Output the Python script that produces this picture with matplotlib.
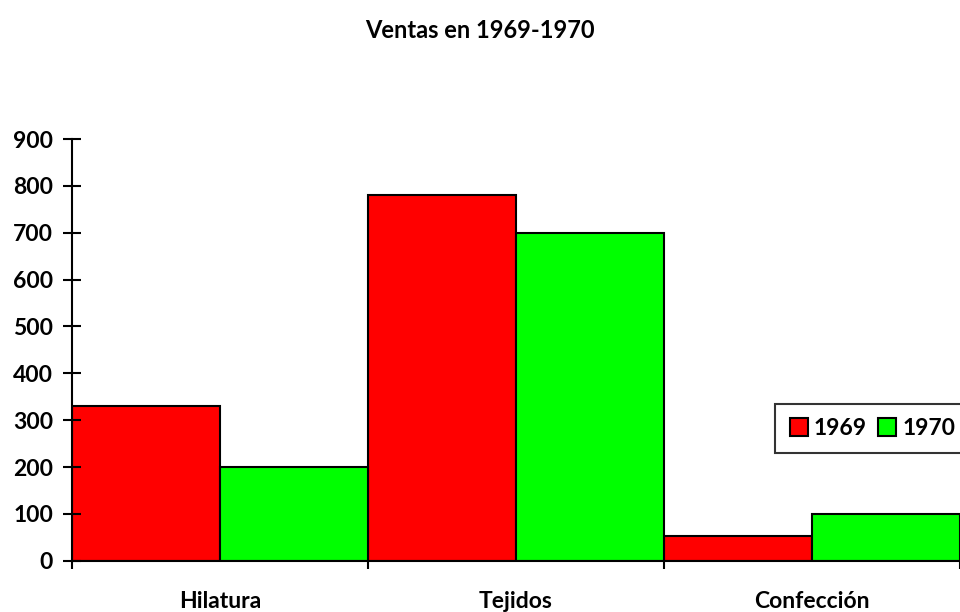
import matplotlib
matplotlib.use('Agg')
import matplotlib.pyplot as plt
import numpy as np

plt.rcParams['font.family'] = ['Lato', 'DejaVu Sans']
plt.rcParams['font.weight'] = 'bold'

categorias = ['Hilatura', 'Tejidos', 'Confección']
ventas_1969 = [330, 780, 52]
ventas_1970 = [200, 700, 100]
yticks = [0, 100, 200, 300, 400, 500, 600, 700, 800, 900]

fig = plt.figure(figsize=(9.6, 6.12), dpi=100)
ax = fig.add_axes([0.075, 0.0838, 0.925, 0.689])

x = np.arange(len(categorias))
ax.bar(x - 0.25, ventas_1969, width=0.5, color='#ff0000', edgecolor='black', linewidth=1.5, label='1969')
ax.bar(x + 0.25, ventas_1970, width=0.5, color='#00ff00', edgecolor='black', linewidth=1.5, label='1970')

ax.set_xlim(-0.5, len(categorias) - 0.5)
ax.set_ylim(0, 900)
ax.set_yticks(yticks)
ax.set_yticklabels([str(v) for v in yticks], fontsize=16.5, fontweight='bold')
ax.tick_params(axis='y', direction='inout', length=13, width=1.5, pad=7)

# marcas en los limites de categoria, etiquetas en el centro
ax.set_xticks(np.arange(len(categorias) + 1) - 0.5)
ax.set_xticklabels([])
ax.tick_params(axis='x', which='major', direction='out', length=6, width=1.5)
ax.set_xticks(x, minor=True)
ax.set_xticklabels(categorias, minor=True, fontsize=16.5, fontweight='bold')
ax.tick_params(axis='x', which='minor', length=0, pad=22)

for s in ['top', 'right']:
    ax.spines[s].set_visible(False)
for s in ['left', 'bottom']:
    ax.spines[s].set_linewidth(1.5)

leg = ax.legend(loc='upper left', bbox_to_anchor=(0.792, 0.372), ncol=2, fontsize=16.5,
                frameon=True, fancybox=False, edgecolor='black', handlelength=0.8,
                handleheight=0.8, handletextpad=0.25, columnspacing=0.5, borderpad=0.62,
                borderaxespad=0)
leg.get_frame().set_linewidth(1.5)
for t in leg.get_texts():
    t.set_fontweight('bold')

fig.text(0.5, 0.95, 'Ventas en 1969-1970', ha='center', va='center', fontsize=17, fontweight='bold')

fig.savefig('out.png', dpi=100)
